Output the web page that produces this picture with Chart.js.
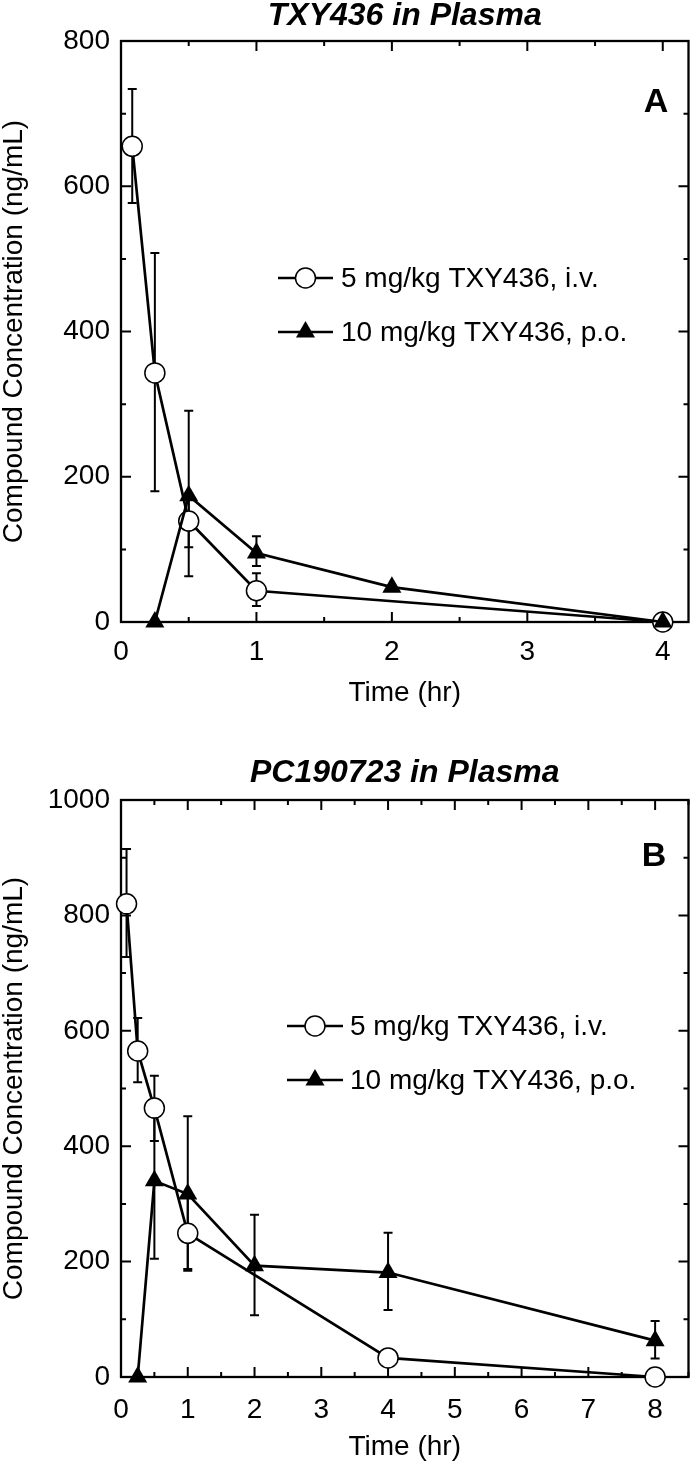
<!DOCTYPE html>
<html>
<head>
<meta charset="utf-8">
<script src="https://cdn.jsdelivr.net/npm/chart.js@4/dist/chart.umd.min.js"></script>
<style>
html, body { margin: 0; padding: 0; background: #fff; }
#wrap { position: relative; width: 700px; height: 1466px; }
canvas { position: absolute; left: 0; }
</style>
</head>
<body>
<div id="wrap">
  <canvas id="chartA" width="700" height="740" style="top:0"></canvas>
  <canvas id="chartB" width="700" height="726" style="top:740px"></canvas>
</div>
<script>
// Panel A - TXY436 in plasma
const timeA_iv = [0.083, 0.25, 0.5, 1, 4];
const concA_iv = [655, 343, 139, 43, 0];
const lowA_iv = [577, 180, 103, 22, null];
const highA_iv = [734, 508, 175, 67, null];

const timeA_po = [0.25, 0.5, 1, 2, 4];
const concA_po = [0, 174, 95, 48, 0];
const lowA_po = [null, 63, 77, null, null];
const highA_po = [null, 291, 118, null, null];

// Panel B - PC190723 in plasma
const timeB_iv = [0.083, 0.25, 0.5, 1, 4, 8];
const concB_iv = [820, 565, 466, 249, 33, 0];
const lowB_iv = [728, 511, 409, 187, null, null];
const highB_iv = [915, 622, 522, 311, null, null];

const timeB_po = [0.25, 0.5, 1, 2, 4, 8];
const concB_po = [0, 340, 317, 193, 181, 63];
const lowB_po = [null, 205, 184, 107, 116, 32];
const highB_po = [null, 475, 452, 281, 250, 97];

const ivLabel = '5 mg/kg TXY436, i.v.';
const poLabel = '10 mg/kg TXY436, p.o.';
const FONT = '"Liberation Sans", Arial, Helvetica, sans-serif';

const toPoints = (xs, ys) => xs.map((t, i) => ({ x: t, y: ys[i] }));

function drawMarker(ctx, style, x, y) {
    ctx.beginPath();
    if (style === 'circle') {
        ctx.arc(x, y, 10, 0, Math.PI * 2);
        ctx.fillStyle = '#fff';
        ctx.fill();
        ctx.lineWidth = 1.5;
        ctx.stroke();
    } else {
        const r = 11;
        let rad = 0;
        ctx.moveTo(x + Math.sin(rad) * r, y - Math.cos(rad) * r);
        rad += 2 * Math.PI / 3;
        ctx.lineTo(x + Math.sin(rad) * r, y - Math.cos(rad) * r);
        rad += 2 * Math.PI / 3;
        ctx.lineTo(x + Math.sin(rad) * r, y - Math.cos(rad) * r);
        ctx.closePath();
        ctx.fillStyle = '#000';
        ctx.fill();
    }
}

// frame with inward ticks + error bars, drawn under the markers
const panelDecor = {
    id: 'panelDecor',
    beforeDatasetsDraw(chart, args, opts) {
        const { ctx, chartArea: a } = chart;
        const xs = chart.scales.x, ys = chart.scales.y;
        ctx.save();
        ctx.strokeStyle = '#000';
        ctx.lineWidth = 2.3;
        ctx.strokeRect(a.left, a.top, a.right - a.left, a.bottom - a.top);

        ctx.lineWidth = 2;
        ctx.beginPath();
        for (let v = 0; v <= xs.max + 1e-6; v += opts.xMinor) {
            const px = xs.getPixelForValue(v);
            const len = Math.abs(v - Math.round(v)) < 1e-6 ? 10 : 5;
            ctx.moveTo(px, a.bottom); ctx.lineTo(px, a.bottom - len);
            ctx.moveTo(px, a.top); ctx.lineTo(px, a.top + len);
        }
        for (let v = 0; v <= ys.max + 1e-6; v += opts.yMinor) {
            const py = ys.getPixelForValue(v);
            const len = (v % (opts.yMinor * 2)) === 0 ? 10 : 5;
            ctx.moveTo(a.left, py); ctx.lineTo(a.left + len, py);
            ctx.moveTo(a.right, py); ctx.lineTo(a.right - len, py);
        }
        ctx.stroke();

        // error bars
        ctx.lineWidth = 2;
        opts.bars.forEach(s => {
            s.time.forEach((t, i) => {
                if (s.low[i] == null) return;
                const px = xs.getPixelForValue(t);
                const y1 = ys.getPixelForValue(s.low[i]);
                const y2 = ys.getPixelForValue(s.high[i]);
                ctx.beginPath();
                ctx.moveTo(px, y1); ctx.lineTo(px, y2);
                ctx.moveTo(px - 4.5, y1); ctx.lineTo(px + 4.5, y1);
                ctx.moveTo(px - 4.5, y2); ctx.lineTo(px + 4.5, y2);
                ctx.stroke();
            });
        });
        ctx.restore();
    },
    afterDraw(chart, args, opts) {
        const { ctx } = chart;
        ctx.save();
        ctx.strokeStyle = '#000';
        // legend
        const lg = opts.legend;
        chart.data.datasets.forEach((ds, i) => {
            const y = lg.y + i * lg.gap;
            ctx.lineWidth = 2.5;
            ctx.beginPath();
            ctx.moveTo(lg.x1, y); ctx.lineTo(lg.x2, y);
            ctx.stroke();
            drawMarker(ctx, ds.pointStyle, (lg.x1 + lg.x2) / 2, y);
            ctx.fillStyle = '#000';
            ctx.font = '28px ' + FONT;
            ctx.textAlign = 'left';
            ctx.textBaseline = 'middle';
            ctx.fillText(ds.label, lg.textX, y + 1);
        });
        // panel letter
        ctx.fillStyle = '#000';
        ctx.font = 'bold 34px ' + FONT;
        ctx.textAlign = 'center';
        ctx.textBaseline = 'middle';
        ctx.fillText(opts.letter.text, opts.letter.x, opts.letter.y);
        ctx.restore();
    }
};

function makePanel(canvasId, p) {
    const ctx = document.getElementById(canvasId).getContext('2d');
    return new Chart(ctx, {
        type: 'line',
        data: {
            datasets: [
                {
                    label: ivLabel,
                    data: toPoints(p.ivTime, p.ivConc),
                    borderColor: '#000',
                    borderWidth: 2.7,
                    pointStyle: 'circle',
                    pointRadius: 10,
                    pointBackgroundColor: '#fff',
                    pointBorderColor: '#000',
                    pointBorderWidth: 1.5,
                    tension: 0,
                    clip: false,
                    order: 1
                },
                {
                    label: poLabel,
                    data: toPoints(p.poTime, p.poConc),
                    borderColor: '#000',
                    borderWidth: 2.7,
                    pointStyle: 'triangle',
                    pointRadius: 11,
                    pointBackgroundColor: '#000',
                    pointBorderColor: '#000',
                    pointBorderWidth: 0,
                    tension: 0,
                    clip: false,
                    order: 0
                }
            ]
        },
        options: {
            responsive: false,
            animation: false,
            devicePixelRatio: 1,
            layout: { padding: { left: 0, right: p.padRight, top: 0, bottom: 0 } },
            plugins: {
                legend: { display: false },
                tooltip: { enabled: false },
                title: {
                    display: true,
                    fullSize: false,
                    text: p.title,
                    color: '#000',
                    font: { family: FONT, size: 32, weight: 'bold', style: 'italic', lineHeight: 1 },
                    padding: p.titlePad
                },
                panelDecor: {
                    xMinor: 0.5,
                    yMinor: 100,
                    bars: [
                        { time: p.ivTime, low: p.ivLow, high: p.ivHigh },
                        { time: p.poTime, low: p.poLow, high: p.poHigh }
                    ],
                    legend: p.legend,
                    letter: p.letter
                }
            },
            scales: {
                x: {
                    type: 'linear',
                    min: 0,
                    max: p.xMax,
                    grid: { display: false, drawTicks: false },
                    border: { display: false },
                    ticks: {
                        stepSize: 1,
                        includeBounds: false,
                        autoSkip: false,
                        maxRotation: 0,
                        padding: p.xTickPad,
                        color: '#000',
                        font: { family: FONT, size: 28 }
                    },
                    title: {
                        display: true,
                        text: 'Time (hr)',
                        color: '#000',
                        font: { family: FONT, size: 28, lineHeight: 1 },
                        padding: { top: 0, bottom: p.xTitlePad }
                    },
                    afterFit: s => { s.height = p.xHeight; }
                },
                y: {
                    type: 'linear',
                    min: 0,
                    max: p.yMax,
                    grid: { display: false, drawTicks: false },
                    border: { display: false },
                    ticks: {
                        stepSize: 200,
                        padding: 11,
                        color: '#000',
                        font: { family: FONT, size: 28 },
                        callback: v => String(v)
                    },
                    title: {
                        display: true,
                        text: 'Compound Concentration (ng/mL)',
                        color: '#000',
                        font: { family: FONT, size: 28, lineHeight: 1 },
                        padding: { top: 0, bottom: 0 }
                    },
                    afterFit: s => { s.width = 121; }
                }
            }
        },
        plugins: [panelDecor]
    });
}

makePanel('chartA', {
    title: 'TXY436 in Plasma',
    ivTime: timeA_iv, ivConc: concA_iv, ivLow: lowA_iv, ivHigh: highA_iv,
    poTime: timeA_po, poConc: concA_po, poLow: lowA_po, poHigh: highA_po,
    xMax: 4.19, yMax: 800,
    padRight: 3,
    titlePad: { top: 0, bottom: 9 },
    xHeight: 118, xTickPad: 13, xTitlePad: 33,
    legend: { x1: 278, x2: 333, textX: 341, y: 278, gap: 54 },
    letter: { text: 'A', x: 656, y: 103 }
});

makePanel('chartB', {
    title: 'PC190723 in Plasma',
    ivTime: timeB_iv, ivConc: concB_iv, ivLow: lowB_iv, ivHigh: highB_iv,
    poTime: timeB_po, poConc: concB_po, poLow: lowB_po, poHigh: highB_po,
    xMax: 8.5, yMax: 1000,
    padRight: 2,
    titlePad: { top: 17, bottom: 11 },
    xHeight: 89, xTickPad: 16, xTitlePad: 5,
    legend: { x1: 287, x2: 343, textX: 350, y: 286, gap: 54 },
    letter: { text: 'B', x: 654, y: 117 }
});
</script>
</body>
</html>
